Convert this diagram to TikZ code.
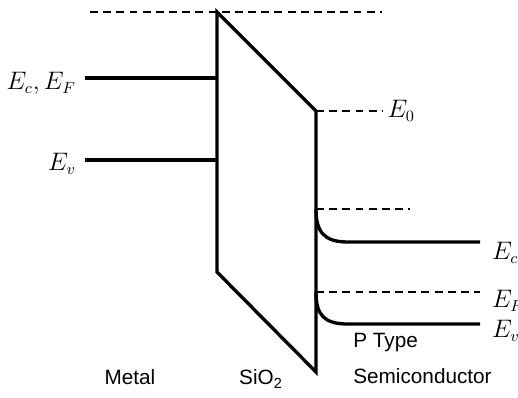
\documentclass[tikz,border=0pt]{standalone}
\usepackage{fontspec}
\newfontfamily\regionfont{Liberation Sans}
\usetikzlibrary{positioning}
\begin{document}
\begin{tikzpicture}[x=0.02cm, y=-0.02cm,
  band/.style={line width=1.9pt},
  level/.style={line width=0.8pt, dash pattern=on 4.5pt off 3pt},
  elabel/.style={font=\fontsize{13.5}{16}\selectfont, inner sep=1pt},
  region/.style={font=\regionfont\fontsize{11.8}{14}\selectfont, inner sep=0pt}]
  \useasboundingbox (0,0) rectangle (518,397);

  % oxide
  \coordinate (oxtl) at (217,12);
  \coordinate (oxbl) at (217,272);
  \coordinate (oxtr) at (316,111);
  \coordinate (oxbr) at (316,372);
  \draw[band] (oxtl) -- (oxtr) -- (oxbr) -- (oxbl) -- cycle;

  % vacuum level
  \coordinate (vac) at (90,12);
  \coordinate (vacend) at (382,12);
  \draw[level] (vac) -- (vacend);

  % metal
  \coordinate (ecm) at (85,78);
  \coordinate (evm) at (85,160);
  \draw[band] (ecm) -- (ecm -| oxtl);
  \draw[band] (evm) -- (evm -| oxtl);
  \node[elabel, left=4pt of ecm, yshift=-3pt] (ecmlabel) {$E_c, E_F$};
  \node[elabel, left=4pt of evm, yshift=-2pt] (evmlabel) {$E_v$};

  % semiconductor
  \coordinate (e0end) at (382,111);
  \draw[level] (oxtr) -- (e0end);
  \node[elabel, right=2pt of e0end] (e0label) {$E_0$};

  \coordinate (ecs) at (316,209);
  \coordinate (ecsend) at (410,209);
  \coordinate (ecbulk) at (480,242);
  \draw[level] (ecs) -- (ecsend);
  \draw[band] (ecs) .. controls (316,232) and (324,242) .. (348,242) -- (ecbulk);

  \coordinate (efs) at (316,292);
  \coordinate (efbulk) at (480,292);
  \coordinate (evbulk) at (480,324);
  \draw[level] (efs) -- (efbulk);
  \draw[band] (efs) .. controls (316,315) and (324,324) .. (348,324) -- (evbulk);

  \node[elabel, anchor=west] (eclabel) at (490,253) {$E_c$};
  \node[elabel, anchor=west] (eflabel) at (490,301) {$E_F$};
  \node[elabel, anchor=west] (evlabel) at (490,331) {$E_v$};

  % regions
  \node[region] (metal) at (130,377) {Metal};
  \node[region] (oxide) at (261,379) {SiO\textsubscript{2}};
  \node[region, anchor=west] (ptype) at (353,343) {P Type};
  \node[region, anchor=west] (semi) at (353,376) {Semiconductor};
\end{tikzpicture}
\end{document}
